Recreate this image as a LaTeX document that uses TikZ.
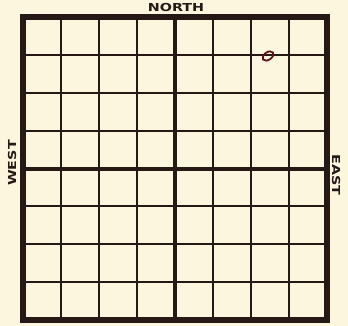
\documentclass[tikz,border=0pt]{standalone}
\usepackage{fontspec}
\setsansfont{DejaVu Sans}
\definecolor{PaperCream}{RGB}{252,246,222}
\definecolor{InkDark}   {RGB}{38,24,20}
\definecolor{InkRed}    {RGB}{120,20,30}
\begin{document}
\begin{tikzpicture}[x=1pt,y=-1pt,
    every node/.style={font=\sffamily\bfseries\fontsize{11}{11}\selectfont,text=InkDark},
    compass/.style={xscale=1.3},
    thinline/.style={InkDark,line width=1.9pt},
    midline/.style={InkDark,line width=4pt},
    frameline/.style={InkDark,line width=5.5pt,line join=miter}]
  \fill[PaperCream] (0,0) rectangle (348,326);
  \useasboundingbox (0,0) rectangle (348,326);
  % thin grid lines
  \foreach \i in {1,2,3,5,6,7}{
    \draw[thinline] (23+38*\i,17) -- (23+38*\i,320);
    \draw[thinline] (23,17+37.875*\i) -- (327,17+37.875*\i);
  }
  % centre lines and frame
  \draw[midline] (175,17) -- (175,320);
  \draw[midline] (23,168.5) -- (327,168.5);
  \draw[frameline] (23,17) rectangle (327,320);
  % compass labels
  \node[compass] (N) at (176,7) {NORTH};
  \node[rotate=90,compass]  (W) at (12,163) {WEST};
  \node[rotate=-90,compass] (E) at (336,175) {EAST};
  % pencil mark
  \draw[InkRed!80!black,line width=1.8pt,rotate around={35:(268,56)}]
    (268,56) ellipse (6pt and 3.8pt);
\end{tikzpicture}
\end{document}
